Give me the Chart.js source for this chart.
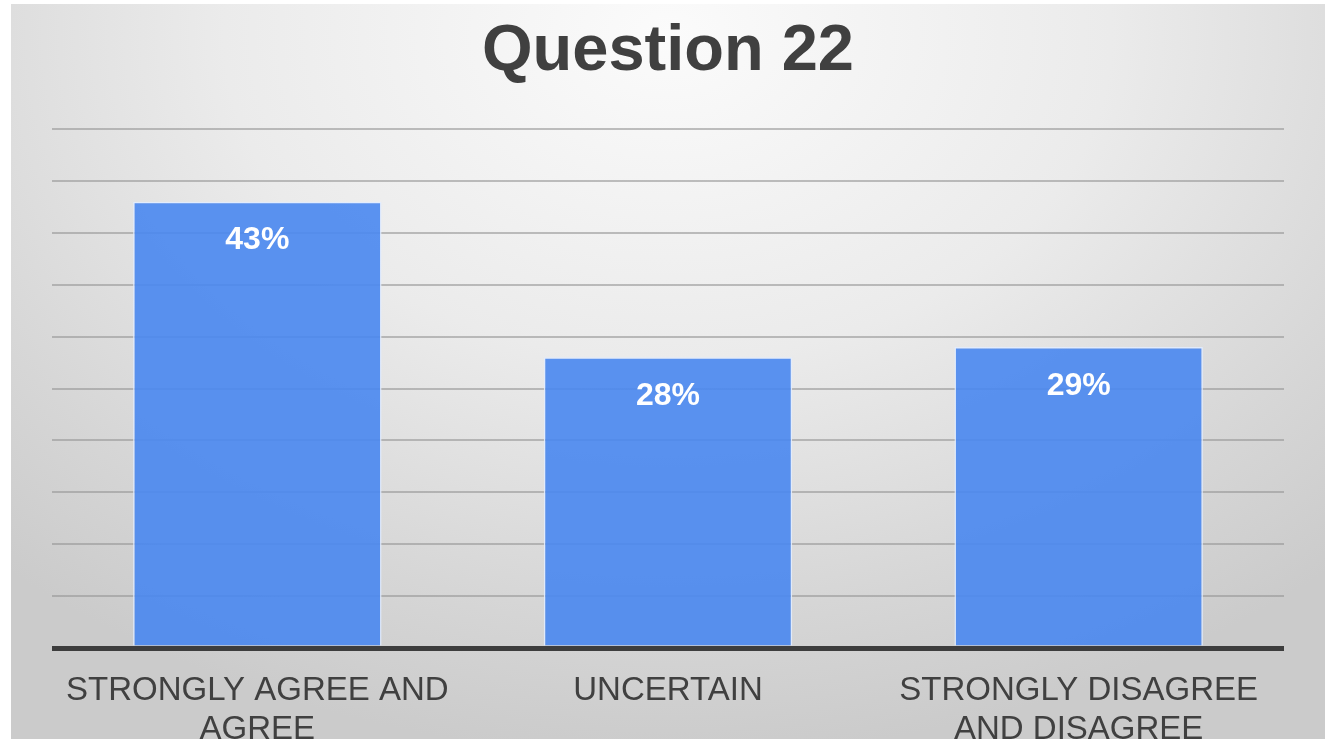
<!DOCTYPE html>
<html>
<head>
<meta charset="utf-8">
<title>Question 22</title>
<script src="https://cdn.jsdelivr.net/npm/chart.js@4.4.1/dist/chart.umd.min.js"></script>
<style>
  html, body { margin: 0; padding: 0; background: #ffffff; overflow: hidden; }
  #wrap { position: relative; width: 1332px; height: 739px; }
  #panel {
    position: absolute; left: 11px; top: 4px; width: 1314px; height: 760px;
    background: radial-gradient(ellipse 75% 95% at 50% 4%, #fbfbfb 0%, #ebebeb 45%, #d6d6d6 80%, #cbcbcb 100%);
  }
  #chart { position: absolute; left: 0; top: 0; }
</style>
</head>
<body>
<div id="wrap">
  <div id="panel"></div>
  <canvas id="chart" width="1332" height="739"></canvas>
</div>
<script>
const title = 'Question 22';
const categories = [
  ['STRONGLY AGREE AND', 'AGREE'],
  'UNCERTAIN',
  ['STRONGLY DISAGREE', 'AND DISAGREE']
];
const shares = [43, 28, 29];
const axisMax = 50;
const axisStep = 5;

const textDark = '#404040';

// Percent labels written inside the top of each bar
const barValueLabels = {
  id: 'barValueLabels',
  afterDatasetsDraw(chart) {
    const ctx = chart.ctx;
    const meta = chart.getDatasetMeta(0);
    const values = chart.data.datasets[0].data;
    ctx.save();
    ctx.fillStyle = '#ffffff';
    ctx.font = 'bold 32px "Liberation Sans", Arial, sans-serif';
    ctx.textAlign = 'center';
    ctx.textBaseline = 'middle';
    meta.data.forEach((bar, i) => {
      ctx.fillText(values[i] + '%', bar.x, bar.y + 39);
    });
    ctx.restore();
  }
};

new Chart(document.getElementById('chart'), {
  type: 'bar',
  data: {
    labels: categories,
    datasets: [{
      data: shares,
      backgroundColor: 'rgba(73,135,240,0.9)',
      borderColor: 'rgba(225,236,255,0.9)',
      borderWidth: 1.5,
      borderSkipped: 'bottom',
      barPercentage: 0.605,
      categoryPercentage: 1.0
    }]
  },
  options: {
    responsive: false,
    animation: false,
    layout: { padding: { left: 52, right: 48, top: 0, bottom: 0 } },
    plugins: {
      legend: { display: false },
      tooltip: { enabled: false },
      title: {
        display: true,
        text: title,
        color: textDark,
        font: { family: '"Liberation Sans", Arial, sans-serif', size: 65, weight: 'bold', lineHeight: 1.2 },
        padding: { top: 13, bottom: 38 }
      }
    },
    scales: {
      x: {
        grid: { display: false },
        border: { display: false },
        ticks: {
          color: textDark,
          padding: 15.5,
          maxRotation: 0,
          autoSkip: false,
          font: { family: '"Liberation Sans", Arial, sans-serif', size: 33, lineHeight: 1.18 }
        },
        afterFit(scale) { scale.height = 91; }
      },
      y: {
        min: 0,
        max: axisMax,
        border: { display: false },
        ticks: { display: false, stepSize: axisStep },
        grid: {
          drawTicks: false,
          color: (c) => c.tick && c.tick.value === 0 ? '#3d3d3d' : 'rgba(150,150,150,0.6)',
          lineWidth: (c) => c.tick && c.tick.value === 0 ? 5 : 2
        }
      }
    }
  },
  plugins: [barValueLabels]
});
</script>
</body>
</html>
